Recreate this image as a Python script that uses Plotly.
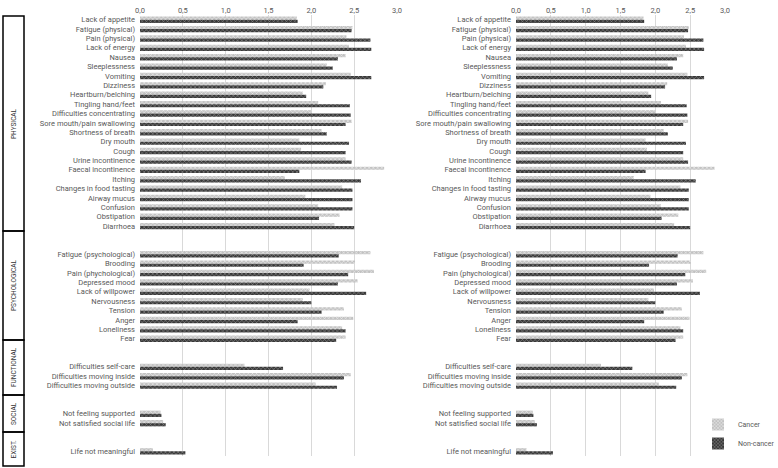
import plotly.graph_objects as go

# ---- data ----
groups = ["PHYSICAL", "PSYCHOLOGICAL", "FUNCTIONAL", "SOCIAL", "EXIST."]

physical = ["Lack of appetite", "Fatigue (physical)", "Pain (physical)", "Lack of energy", "Nausea",
            "Sleeplessness", "Vomiting", "Dizziness", "Heartburn/belching", "Tingling hand/feet",
            "Difficulties concentrating", "Sore mouth/pain swallowing", "Shortness of breath",
            "Dry mouth", "Cough", "Urine incontinence", "Faecal incontinence", "Itching",
            "Changes in food tasting", "Airway mucus", "Confusion", "Obstipation", "Diarrhoea"]
psychological = ["Fatigue (psychological)", "Brooding", "Pain (phychological)", "Depressed mood",
                 "Lack of willpower", "Nervousness", "Tension", "Anger", "Loneliness", "Fear"]
functional = ["Difficulties self-care", "Difficulties moving inside", "Difficulties moving outside"]
social = ["Not feeling supported", "Not satisfied social life"]
existential = ["Life not meaningful"]

cancer_physical = [1.83, 2.48, 2.41, 2.44, 2.40, 2.18, 2.46, 2.17, 1.90, 2.08, 2.00, 2.47, 2.12,
                   1.86, 1.88, 2.40, 2.85, 1.69, 2.36, 1.93, 2.08, 2.33, 2.27]
noncancer_physical = [1.84, 2.47, 2.69, 2.70, 2.31, 2.25, 2.70, 2.14, 1.94, 2.45, 2.46, 2.40, 2.18,
                      2.44, 2.40, 2.47, 1.86, 2.58, 2.48, 2.48, 2.48, 2.09, 2.50]
cancer_psych = [2.69, 2.51, 2.73, 2.54, 1.98, 1.90, 2.38, 2.49, 2.36, 2.40]
noncancer_psych = [2.32, 1.91, 2.43, 2.31, 2.64, 2.00, 2.12, 1.84, 2.40, 2.29]
cancer_func = [1.22, 2.46, 2.05]
noncancer_func = [1.67, 2.38, 2.30]
cancer_social = [0.24, 0.27]
noncancer_social = [0.25, 0.30]
cancer_exist = [0.15]
noncancer_exist = [0.53]

x_ticks = [0, 0.5, 1.0, 1.5, 2.0, 2.5, 3.0]

# ---- assemble ----
item_lists = [physical, psychological, functional, social, existential]
cancer_lists = [cancer_physical, cancer_psych, cancer_func, cancer_social, cancer_exist]
noncancer_lists = [noncancer_physical, noncancer_psych, noncancer_func, noncancer_social, noncancer_exist]
GAP = 2  # blank rows between groups

labels, pos, cancer, noncancer = [], [], [], []
slot = 0
for gi, items in enumerate(item_lists):
    if gi > 0:
        slot += GAP
    for j, name in enumerate(items):
        labels.append(name)
        pos.append(slot)
        cancer.append(cancer_lists[gi][j])
        noncancer.append(noncancer_lists[gi][j])
        slot += 1
n_slots = slot

W, H = 778, 468
TOP, BOT = 15, 456
font_family = "Roboto, 'Open Sans', sans-serif"
txt_col = "#595959"

fig = go.Figure()
for k, (xa, ya) in enumerate([("x", "y"), ("x2", "y2")]):
    fig.add_trace(go.Bar(
        y=pos, x=cancer, orientation="h", name="Cancer", xaxis=xa, yaxis=ya,
        showlegend=(k == 0),
        marker=dict(color="#cccccc", line=dict(width=0),
                    pattern=dict(shape="x", fgcolor="#f6f6f6", bgcolor="#c2c2c2", size=3, solidity=0.3)),
    ))
    fig.add_trace(go.Bar(
        y=pos, x=noncancer, orientation="h", name="Non-cancer", xaxis=xa, yaxis=ya,
        showlegend=(k == 0),
        marker=dict(color="#3c3c3c", line=dict(width=0),
                    pattern=dict(shape="x", fgcolor="#9a9a9a", bgcolor="#383838", size=3, solidity=0.3)),
    ))

xcommon = dict(range=[0, 3], side="top", tickvals=x_ticks, tickformat=".1f",
               showgrid=True, gridcolor="#d9d9d9", gridwidth=1, zeroline=False, showline=False,
               ticks="", automargin=False,
               tickfont=dict(size=7.5, color=txt_col, family=font_family), fixedrange=True)
ycommon = dict(range=[n_slots - 0.5, -0.5], tickvals=pos, ticktext=labels, showgrid=False,
               zeroline=False, showline=False, ticks="", ticklabelstandoff=4, automargin=False,
               tickfont=dict(size=7.5, color=txt_col, family=font_family))

fig.update_layout(
    template="none",
    width=W, height=H,
    margin=dict(l=0, r=0, t=TOP, b=H - BOT, autoexpand=False),
    paper_bgcolor="white", plot_bgcolor="white",
    separators=", ",
    barmode="group", bargap=0.32, bargroupgap=0.0,
    xaxis=dict(domain=[140 / W, 397 / W], anchor="y", **xcommon),
    yaxis=dict(anchor="x", **ycommon),
    xaxis2=dict(domain=[516 / W, 725 / W], anchor="y2", **xcommon),
    yaxis2=dict(anchor="x2", **ycommon),
    legend=dict(x=698 / W, xanchor="left", y=(BOT - 410) / (BOT - TOP), yanchor="top",
                font=dict(size=7, color=txt_col, family=font_family), bgcolor="rgba(0,0,0,0)",
                itemwidth=30, tracegroupgap=0),
    font=dict(family=font_family, color=txt_col),
)

# group boxes on the left (pixel boundaries)
def py(p):
    return (BOT - p) / (BOT - TOP)

box_edges = [16, 231, 340, 395, 432, 466]
for i, g in enumerate(groups):
    y0, y1 = box_edges[i], box_edges[i + 1]
    fig.add_shape(type="rect", xref="paper", yref="paper",
                  x0=3 / W, x1=24 / W, y0=py(y1), y1=py(y0),
                  line=dict(color="black", width=1.5), fillcolor="rgba(0,0,0,0)")
    fig.add_annotation(xref="paper", yref="paper", x=13.5 / W, y=py((y0 + y1) / 2),
                       xanchor="center", yanchor="middle",
                       text=g, textangle=-90, showarrow=False,
                       font=dict(size=6.5, color="#333333", family=font_family))

fig.write_html("out.html", config={"displayModeBar": False},
               post_script="document.body.style.margin='0';document.body.style.padding='0';")
